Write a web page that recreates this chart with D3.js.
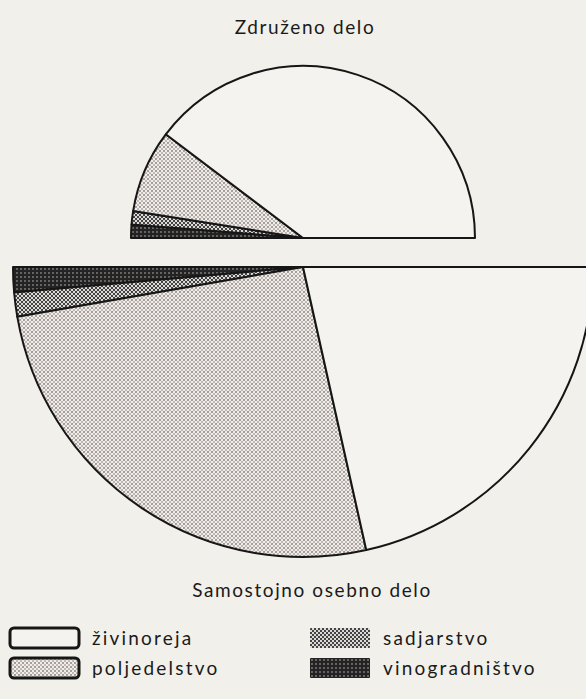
<!DOCTYPE html>
<html>
<head>
<meta charset="utf-8">
<script src="https://cdn.jsdelivr.net/npm/d3@7"></script>
<style>
body { margin: 0; background: #f2f0eb; }
text { font-family: "Lato", "DejaVu Sans", sans-serif; fill: #1a1a1a; }
</style>
</head>
<body>
<div id="chart"></div>
<script>
var categories = ["živinoreja", "poljedelstvo", "sadjarstvo", "vinogradništvo"];
var zdruzenoDelo = [79.4, 15.6, 2.5, 2.5];      // % , upper half
var samostojnoDelo = [43.0, 51.5, 2.7, 2.8];    // % , lower half
var titles = ["Združeno delo", "Samostojno osebno delo"];

var width = 586, height = 699;

var svg = d3.select("#chart")
  .append("svg")
    .attr("width", width)
    .attr("height", height);

// halftone-ish fills
var defs = svg.append("defs");

var p1 = defs.append("pattern")
    .attr("id", "pat-polj")
    .attr("width", 4).attr("height", 4)
    .attr("patternUnits", "userSpaceOnUse");
p1.append("rect").attr("width", 4).attr("height", 4).attr("fill", "#f1eeea");
p1.append("circle").attr("cx", 1).attr("cy", 1).attr("r", 1.1).attr("fill", "#9c9492");
p1.append("circle").attr("cx", 3).attr("cy", 3).attr("r", 1).attr("fill", "#aea6a4");

var p2 = defs.append("pattern")
    .attr("id", "pat-sadj")
    .attr("width", 4).attr("height", 4)
    .attr("patternUnits", "userSpaceOnUse");
p2.append("rect").attr("width", 4).attr("height", 4).attr("fill", "#dcdad6");
p2.append("rect").attr("x", 0).attr("y", 0).attr("width", 2).attr("height", 2).attr("fill", "#454343");
p2.append("rect").attr("x", 2).attr("y", 2).attr("width", 2).attr("height", 2).attr("fill", "#454343");

var p3 = defs.append("pattern")
    .attr("id", "pat-vino")
    .attr("width", 4).attr("height", 4)
    .attr("patternUnits", "userSpaceOnUse");
p3.append("rect").attr("width", 4).attr("height", 4).attr("fill", "#242323");
p3.append("circle").attr("cx", 2).attr("cy", 2).attr("r", 0.9).attr("fill", "#858281");

var fills = ["#f5f3ef", "url(#pat-polj)", "url(#pat-sadj)", "url(#pat-vino)"];

var order = [3, 2, 1, 0];   // vinogradništvo sits next to the left baseline

var arc = d3.arc().innerRadius(0);

function halfPie(values, cx, cy, r, a0, a1) {
  var pie = d3.pie()
    .sort(null)
    .value(function(i) { return values[i]; })
    .startAngle(a0)
    .endAngle(a1);

  var g = svg.append("g")
    .attr("transform", "translate(" + cx + "," + cy + ")");

  g.selectAll("path")
    .data(pie(order))
    .join("path")
      .attr("d", arc.outerRadius(r))
      .attr("fill", function(d) { return fills[d.data]; })
      .attr("stroke", "#161616")
      .attr("stroke-width", 2)
      .attr("stroke-linejoin", "round");
  return g;
}

halfPie(zdruzenoDelo, 303, 238, 172, -Math.PI / 2, Math.PI / 2);
var lower = halfPie(samostojnoDelo, 303, 267, 290, 3 * Math.PI / 2, Math.PI / 2);

// baseline of the lower half runs off the page
lower.append("line")
  .attr("x1", -290).attr("y1", 0)
  .attr("x2", width).attr("y2", 0)
  .attr("stroke", "#161616")
  .attr("stroke-width", 2);

svg.append("text")
  .attr("x", 305).attr("y", 34)
  .attr("text-anchor", "middle")
  .style("font-size", "19px")
  .style("letter-spacing", "1.6px")
  .text(titles[0]);

svg.append("text")
  .attr("x", 312).attr("y", 597)
  .attr("text-anchor", "middle")
  .style("font-size", "19px")
  .style("letter-spacing", "1.6px")
  .text(titles[1]);

// legend
var legendPos = [[10, 628], [10, 658], [310, 628], [310, 658]];

var legend = svg.selectAll(".legend")
  .data(categories)
  .join("g")
    .attr("class", "legend")
    .attr("transform", function(d, i) { return "translate(" + legendPos[i][0] + "," + legendPos[i][1] + ")"; });

legend.append("rect")
  .attr("width", function(d, i) { return i < 2 ? 69 : 60; })
  .attr("height", 20)
  .attr("rx", function(d, i) { return i < 2 ? 4 : 1; })
  .attr("fill", function(d, i) { return fills[i]; })
  .attr("stroke", function(d, i) { return i < 2 ? "#161616" : "none"; })
  .attr("stroke-width", 3);

legend.append("text")
  .attr("x", function(d, i) { return i < 2 ? 82 : 73; })
  .attr("y", 17)
  .style("font-size", "19px")
  .style("letter-spacing", "2.2px")
  .text(function(d) { return d; });
</script>
</body>
</html>
